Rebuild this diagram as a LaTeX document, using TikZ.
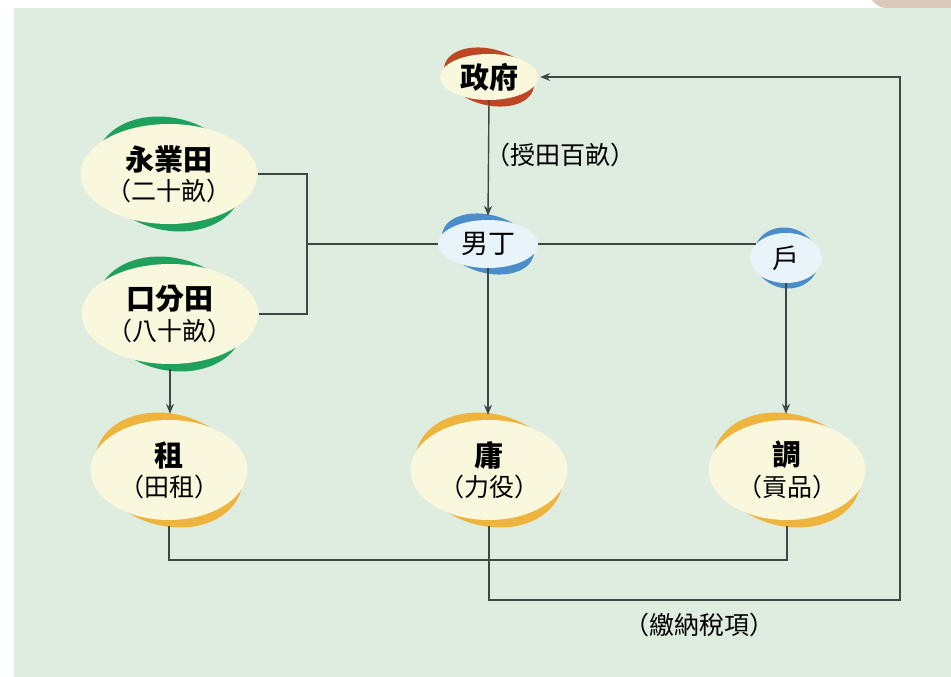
\documentclass[tikz,border=0pt]{standalone}
\usepackage{fontspec}
\setmainfont{Noto Sans CJK TC}
\usepackage{xcolor}
\usepackage{tikz}
\usetikzlibrary{positioning, shapes.geometric, arrows.meta}

\definecolor{bg}{HTML}{DFECE0}
\definecolor{cream}{HTML}{FAF8DC}
\definecolor{pale}{HTML}{E8F3FA}
\definecolor{leaf}{HTML}{1FA05C}
\definecolor{gold}{HTML}{EEB53E}
\definecolor{rust}{HTML}{BE4622}
\definecolor{sky}{HTML}{4B8DCA}
\definecolor{wire}{HTML}{3C4843}
\definecolor{corner}{HTML}{DCC9BA}

\newcommand{\duo}[2]{{\bfseries\fontsize{29}{34}\selectfont #1}\\[5pt]{\fontsize{25}{30}\selectfont #2}}

\begin{document}
\begin{tikzpicture}[x=1pt,y=-1pt,>={Stealth[length=10pt,width=8pt]}]
	\tikzstyle{rim}=[ellipse,inner sep=0pt,fill=#1,rotate=-15]
	\tikzstyle{pad}=[ellipse,fill=cream,inner sep=0pt,align=center,
		minimum width=157pt,minimum height=100pt]
	\tikzstyle{tag}=[ellipse,inner sep=0pt,align=center]
	\tikzstyle{link}=[draw=wire,line width=1.4pt]
	\tikzstyle{note}=[inner sep=0pt,font=\fontsize{25}{30}\selectfont]
	% backdrop
	\useasboundingbox (0,0) rectangle (951,677);
	\fill[bg] (14,8) rectangle (951,677);
	\fill[corner] (872,0) .. controls (876,5) and (880,8) .. (886,8) -- (951,8) -- (951,0) -- cycle;
	% rims
	\node[rim=rust,minimum width=92pt,minimum height=56pt](zhengfu-rim) at (489,77) {};
	\node[rim=sky,minimum width=94pt,minimum height=58pt](nanding-rim) at (488,244) {};
	\node[rim=sky,rotate=-8,minimum width=66pt,minimum height=60pt](hu-rim) at (786,258) {};
	\node[rim=leaf,minimum width=150pt,minimum height=112pt](yongye-rim) at (169,174) {};
	\node[rim=leaf,minimum width=150pt,minimum height=112pt](koufen-rim) at (170,314) {};
	\node[rim=gold,minimum width=150pt,minimum height=112pt](zu-rim) at (169,470) {};
	\node[rim=gold,minimum width=150pt,minimum height=112pt](yong-rim) at (489,470) {};
	\node[rim=gold,minimum width=150pt,minimum height=112pt](diao-rim) at (787,470) {};
	% nodes
	\node[tag,fill=cream,minimum width=98pt,minimum height=46pt,
		font=\bfseries\fontsize{29}{34}\selectfont](zhengfu) at (zhengfu-rim) {政府};
	\node[tag,fill=pale,minimum width=100pt,minimum height=48pt,
		font=\fontsize{27}{32}\selectfont](nanding) at (nanding-rim) {男丁};
	\node[tag,fill=pale,minimum width=72pt,minimum height=50pt,
		font=\fontsize{27}{32}\selectfont](hu) at (hu-rim) {戶};
	\node[pad](yongye) at (yongye-rim) {\duo{永業田}{（二十畝）}};
	\node[pad](koufen) at (koufen-rim) {\duo{口分田}{（八十畝）}};
	\node[pad](zu) at (zu-rim) {\duo{租}{（田租）}};
	\node[pad](yong) at (yong-rim) {\duo{庸}{（力役）}};
	\node[pad](diao) at (diao-rim) {\duo{調}{（貢品）}};
	\coordinate (fork) at (307,244);
	\coordinate (tie) at (787,560);
	\coordinate (turn) at (900,600);
	% connectors
	\draw[link,->](zhengfu.south) -- ([yshift=4pt]nanding.north);
	\node[note,anchor=west](shoutian) at (485,155) {（授田百畝）};
	\draw[link](yongye.east) -| (fork) |- (koufen.east);
	\draw[link](fork) -- (nanding.west);
	\draw[link](nanding.east) -- (nanding.east -| hu.155);
	\draw[link,->](hu.south) -- ([yshift=6pt]hu.south |- diao.north);
	\draw[link,->](nanding.south) -- ([yshift=5pt]nanding.south |- yong.north);
	\draw[link,->]([yshift=-5pt]koufen.south) -- ([yshift=6pt]koufen.south |- zu.north);
	\draw[link]([yshift=-6pt]zu.south) |- (tie) -- ([yshift=-6pt]diao.south);
	\draw[link,->]([yshift=-6pt]yong.south) |- (turn) |- ([xshift=2pt]zhengfu.east);
	\node[note](jiaona) at (699,625) {（繳納稅項）};
\end{tikzpicture}
\end{document}
